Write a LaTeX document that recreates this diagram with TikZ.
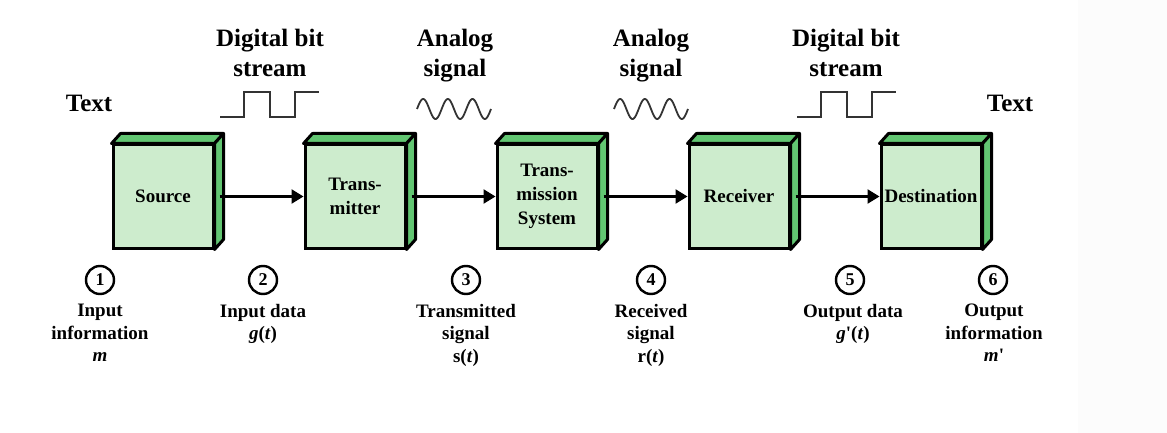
\documentclass[tikz,border=0pt]{standalone}
\usepackage{fontspec}
\setmainfont{Liberation Serif}[Ligatures=TeXOff]
\usetikzlibrary{arrows.meta}
\definecolor{frontgreen}{RGB}{205,236,205}
\definecolor{sidegreen}{RGB}{98,198,114}
\definecolor{stripgray}{RGB}{252,252,252}
\tikzset{
  face/.style={fill=frontgreen,draw=black,line width=3pt,minimum width=100pt,minimum height=103pt,inner sep=0pt,align=center,font=\fontsize{19}{24}\selectfont\bfseries},
  sideface/.style={fill=sidegreen,draw=black,line width=3pt,line join=round},
  arr/.style={line width=2.4pt,-{Triangle[length=12pt,width=14pt]}},
  toplabel/.style={anchor=north,inner sep=0pt,align=center,font=\fontsize{25}{30}\selectfont\bfseries},
  botlabel/.style={anchor=north,inner sep=0pt,align=center,font=\fontsize{19}{22.5}\selectfont\bfseries},
  num/.style={circle,draw=black,line width=2.4pt,minimum size=28pt,inner sep=0pt,font=\fontsize{18}{20}\selectfont\bfseries},
  wave/.style={line width=1.8pt,draw=black!80}
}
\newcommand\greenbox[3]{%
  \node[face] (#1) at (#2,196.5) {#3};
  \draw[sideface] (#1.north west) -- ++(9,-10) -- ([shift={(9,-10)}]#1.north east) -- (#1.north east) -- cycle;
  \draw[sideface] (#1.north east) -- ++(9,-10) -- ([shift={(9,-10)}]#1.south east) -- (#1.south east) -- cycle;
}
\begin{document}
\begin{tikzpicture}[x=1pt,y=-1pt]
\useasboundingbox (0,0) rectangle (1167,433);
\fill[stripgray] (1078,0) rectangle (1167,433);
% boxes
\greenbox{src}{163}{Source}
\greenbox{tx}{355}{Trans-\\mitter}
\greenbox{sys}{547}{Trans-\\mission\\System}
\greenbox{rx}{739}{Receiver}
\greenbox{dst}{931}{Destination}
% connectors
\draw[arr] ([xshift=5pt]src.east) -- (tx.west);
\draw[arr] ([xshift=5pt]tx.east) -- (sys.west);
\draw[arr] ([xshift=5pt]sys.east) -- (rx.west);
\draw[arr] ([xshift=5pt]rx.east) -- (dst.west);
% top labels
\node[toplabel] (tl) at (89,95) {Text};
\node[toplabel] (tr) at (1010,95) {Text};
\node[toplabel] (d1) at (270,29) {Digital bit\\stream};
\node[toplabel] (a1) at (455,29) {Analog\\signal};
\node[toplabel] (a2) at (651,29) {Analog\\signal};
\node[toplabel] (d2) at (846,29) {Digital bit\\stream};
% square waves
\draw[wave] (220,117) -- (244,117) -- (244,92) -- (270,92) -- (270,117) -- (295,117) -- (295,92) -- (319,92);
\draw[wave] (797,117) -- (821,117) -- (821,92) -- (847,92) -- (847,117) -- (872,117) -- (872,92) -- (896,92);
% sine waves
\draw[wave,domain=0:74,samples=120,smooth] plot ({417+\x},{109-10*sin(\x*14.5946)});
\draw[wave,domain=0:74,samples=120,smooth] plot ({614+\x},{109-10*sin(\x*14.5946)});
% numbered circles
\node[num] (n1) at (100,280) {1};
\node[num] (n2) at (263,280) {2};
\node[num] (n3) at (466,280) {3};
\node[num] (n4) at (651,280) {4};
\node[num] (n5) at (850,280) {5};
\node[num] (n6) at (993,280) {6};
% bottom labels
\node[botlabel] (b1) at (100,304) {Input\\information\\\textit{m}};
\node[botlabel] (b2) at (263,304) {Input data\\\textit{g}(\textit{t})};
\node[botlabel] (b3) at (466,304) {Transmitted\\signal\\s(\textit{t})};
\node[botlabel] (b4) at (651,304) {Received\\signal\\r(\textit{t})};
\node[botlabel] (b5) at (853,304) {Output data\\\textit{g}'(\textit{t})};
\node[botlabel] (b6) at (994,304) {Output\\information\\\textit{m}'};
\end{tikzpicture}
\end{document}
